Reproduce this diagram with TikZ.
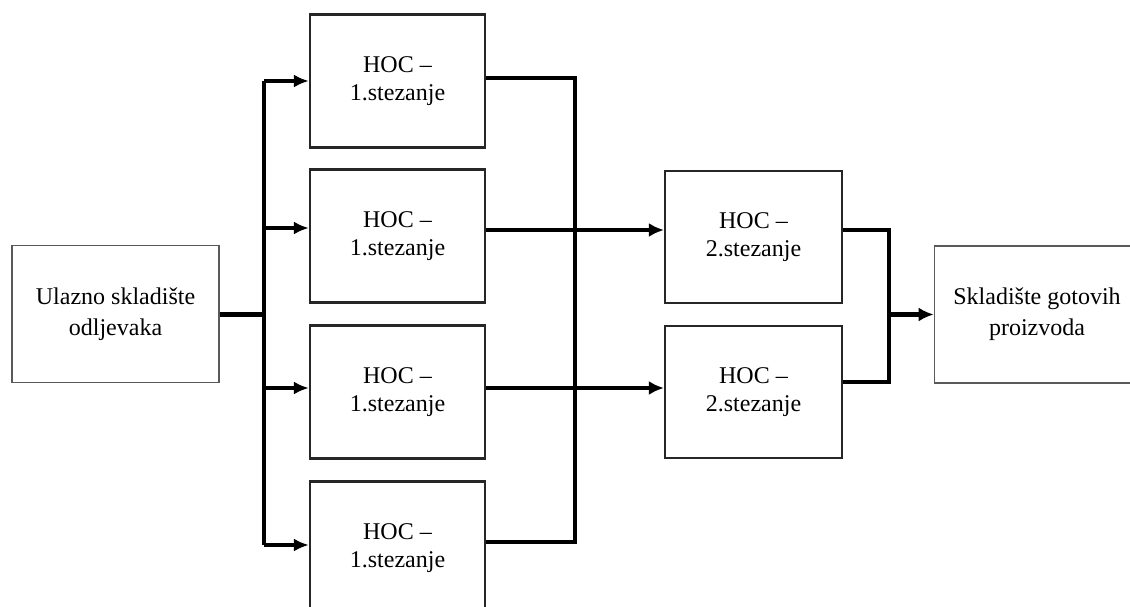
\documentclass[tikz,border=0pt]{standalone}
\usepackage{fontspec}
\setmainfont{Liberation Serif}
\usetikzlibrary{arrows.meta,positioning,calc}
\tikzset{
  hocbox/.style={draw=black!85,line width=2.2pt,fill=white,align=center,
    minimum width=175pt,minimum height=133pt,font=\fontsize{24}{28}\selectfont},
  storebox/.style={draw=black!65,line width=1.6pt,fill=white,align=center,
    minimum width=205pt,minimum height=137pt,font=\fontsize{24}{31}\selectfont},
  flowline/.style={line width=3.4pt,draw=black},
  flowarrow/.style={-{Latex[length=15pt,width=13pt]},line width=3.4pt},
  thickarrow/.style={-{Latex[length=15pt,width=14pt]},line width=4.6pt},
  thickline/.style={line width=5pt}
}
\begin{document}
\begin{tikzpicture}[x=1pt,y=-1pt]
  \useasboundingbox (0,0) rectangle (1130,607);
  \clip (0,0) rectangle (1130,607);
  % skladista
  \node[storebox,minimum width=207pt] (ulaz) at (115.5,314) {Ulazno skladište\\odljevaka};
  \node[storebox] (izlaz) at (1037,314.5) {Skladište gotovih\\proizvoda};
  % prvo stezanje
  \foreach \i/\yc in {1/81,2/236,3/392,4/548}
    \node[hocbox] (hoca\i) at (397.5,\yc) {HOC --\\1.stezanje};
  % drugo stezanje
  \node[hocbox,minimum width=177pt,minimum height=132pt] (hocb1) at (753.5,237) {HOC --\\2.stezanje};
  \node[hocbox,minimum width=177pt,minimum height=132pt] (hocb2) at (753.5,392) {HOC --\\2.stezanje};
  % razdjelnik
  \coordinate (split) at (264,0);
  \foreach \i/\dy in {1/0,2/8,3/4,4/3}{
    \coordinate (in\i) at ([yshift=\dy pt]hoca\i.west);
    \draw[flowarrow] (split |- in\i) -- (in\i);
  }
  \draw[flowline] (split |- in1) -- (split |- in4);
  \draw[thickline] (ulaz.east) -- (ulaz.east -| split);
  % sabirnik
  \coordinate (merge) at (575,0);
  \foreach \i/\dy in {1/3,2/6,3/4,4/6}
    \coordinate (out\i) at ([yshift=\dy pt]hoca\i.east);
  \draw[flowline] (out1) -| (merge |- out4) -- (out4);
  \draw[flowline] (out2) -- (merge |- out2);
  \draw[flowline] (out3) -- (merge |- out3);
  \draw[thickarrow] (merge |- out2) -- (out2 -| hocb1.west);
  \draw[thickarrow] (merge |- out3) -- (out3 -| hocb2.west);
  % izlaz
  \coordinate (join) at (889,0);
  \coordinate (gout1) at ([yshift=7pt]hocb1.east);
  \coordinate (gout2) at ([yshift=10pt]hocb2.east);
  \draw[flowline] (gout1) -| (join |- gout2) -- (gout2);
  \draw[thickarrow] (join |- izlaz.west) -- (izlaz.west);
\end{tikzpicture}
\end{document}
